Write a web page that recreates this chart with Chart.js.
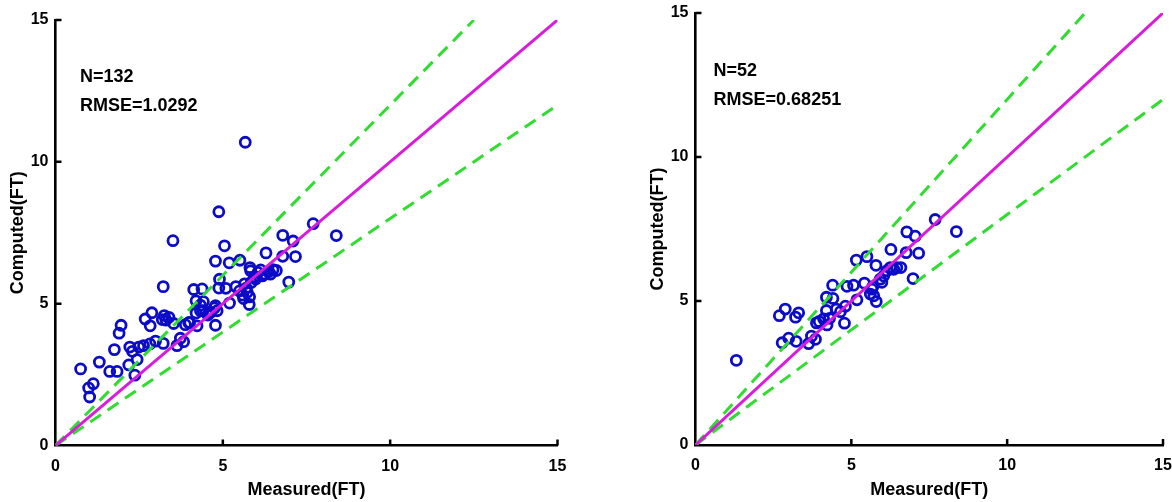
<!DOCTYPE html>
<html>
<head>
<meta charset="utf-8">
<script src="https://cdn.jsdelivr.net/npm/chart.js@4.4.1/dist/chart.umd.min.js"></script>
<style>
  html,body{margin:0;padding:0;background:#fff;}
  body{width:1172px;height:502px;position:relative;overflow:hidden;}
  .box{position:absolute;top:0;height:502px;}
  #boxA{left:0;width:580px;}
  #boxB{left:640px;width:532px;}
</style>
</head>
<body>
<div class="box" id="boxA"><canvas id="chartA" width="580" height="502"></canvas></div>
<div class="box" id="boxB"><canvas id="chartB" width="532" height="502"></canvas></div>
<script>
// ---- data ----
const tickValues = [0, 5, 10, 15];
const refSlopes = [1, 1.2, 0.8];      // y = x, +20 %, -20 %
const axisMax = 15;

const measuredA = [5.67,4.88,3.51,7.70,8.39,6.79,7.10,5.05,6.29,6.79,
  7.17,4.78,5.19,5.51,5.81,5.83,6.13,6.37,6.60,6.18,
  5.98,6.42,6.97,3.22,4.13,4.38,4.88,5.09,4.90,5.39,
  5.70,5.73,5.80,5.62,5.79,5.20,4.20,4.42,4.41,4.20,
  4.75,4.83,4.61,4.78,4.23,3.88,3.98,3.73,3.83,3.63,
  3.53,3.39,3.25,3.30,2.88,2.68,2.83,3.22,2.99,2.82,
  2.63,2.49,2.22,2.30,2.44,2.19,2.37,1.96,1.90,1.76,
  1.31,1.62,1.84,0.75,1.13,0.99,1.02,3.19,4.33,4.33,
  4.63,4.78,4.01,6.05,6.25,5.95,5.50,5.65,6.50,4.55,
  5.60,5.85];
const computedA = [10.69,8.24,7.22,7.82,7.40,7.41,7.21,7.04,6.79,6.67,
  6.66,6.50,6.44,6.53,6.27,6.16,6.19,6.13,6.17,5.98,
  5.87,6.04,5.76,5.60,5.50,5.52,5.55,5.54,5.86,5.60,
  5.55,5.40,5.24,5.18,4.97,5.02,5.10,5.07,4.75,4.67,
  4.85,4.75,4.67,4.24,4.22,4.26,4.33,3.78,3.66,3.52,
  4.30,4.52,4.58,4.42,4.68,4.46,4.22,3.60,3.68,3.58,
  3.52,3.47,3.47,3.32,3.03,2.84,2.48,4.24,3.96,3.38,
  2.94,2.61,2.61,2.70,2.18,2.03,1.71,4.44,4.75,4.95,
  4.70,4.93,4.34,6.10,6.05,5.95,5.45,5.70,6.20,4.60,
  5.30,5.75];
const statsA = ["N=132", "RMSE=1.0292"];

const measuredB = [1.31,2.69,2.88,2.78,2.99,3.23,3.21,3.31,3.63,3.72,
  3.85,3.88,3.97,4.22,4.20,4.20,4.41,4.40,4.11,4.52,
  4.65,4.81,4.78,4.86,5.07,5.18,5.16,5.50,5.42,5.61,
  5.66,5.72,5.80,5.79,5.93,6.04,6.14,6.25,6.36,6.27,
  6.46,6.59,6.76,6.78,7.05,7.16,6.98,7.69,8.37,5.69,
  5.98,4.30];
const computedB = [2.94,4.49,4.72,3.55,3.71,3.60,4.44,4.59,3.52,3.78,
  3.67,4.24,4.29,4.17,4.67,5.13,5.09,5.55,4.38,4.72,
  4.63,4.82,4.23,5.51,5.55,5.04,6.42,6.54,5.62,5.24,
  5.41,5.18,4.98,6.24,5.76,5.87,6.05,6.16,6.10,6.79,
  6.16,6.16,6.68,7.40,7.25,6.66,5.78,7.83,7.41,5.50,
  5.65,4.40];
const statsB = ["N=52", "RMSE=0.68251"];

const xTitle = "Measured(FT)";
const yTitle = "Computed(FT)";

// ---- helpers ----
const FONT = "'Liberation Sans', Arial, Helvetica, sans-serif";
function zip(xs, ys){ const n=Math.min(xs.length, ys.length); const o=[]; for(let i=0;i<n;i++) o.push({x:xs[i], y:ys[i]}); return o; }
function refLine(slope){ const xEnd = Math.min(axisMax, axisMax/slope); return [{x:0,y:0},{x:xEnd,y:xEnd*slope}]; }

const inwardTicks = {
  id:'inwardTicks',
  afterDatasetsDraw(chart){
    const {ctx, chartArea:a, scales:{x, y}} = chart;
    ctx.save();
    ctx.strokeStyle = '#000';
    ctx.lineWidth = 2.5;
    ctx.beginPath();
    tickValues.forEach(v => {
      if (v === 0) return;
      const px = x.getPixelForValue(v);
      ctx.moveTo(px, a.bottom); ctx.lineTo(px, a.bottom - 6);
      const py = y.getPixelForValue(v);
      ctx.moveTo(a.left, py); ctx.lineTo(a.left + 6, py);
    });
    ctx.stroke();
    ctx.restore();
  }
};

const statText = {
  id:'statText',
  afterDraw(chart, args, opts){
    const {ctx, scales:{x, y}} = chart;
    ctx.save();
    ctx.fillStyle = '#000';
    ctx.font = 'bold 18px ' + FONT;
    ctx.textBaseline = 'middle';
    ctx.textAlign = 'left';
    opts.lines.forEach((t, i) => {
      ctx.fillText(t, x.getPixelForValue(opts.x), y.getPixelForValue(13 - i*1.02));
    });
    ctx.restore();
  }
};

function makeChart(id, measured, computed, stats, pad, textX){
  const tickFont = {family:FONT, size:16, weight:'bold'};
  const titleFont = {family:FONT, size:18, weight:'bold'};
  const hiddenGrid = (len) => ({display:true, drawOnChartArea:false, drawTicks:true, tickLength:len, color:'rgba(0,0,0,0)', tickColor:'rgba(0,0,0,0)'});
  const tickCb = (v)=> tickValues.includes(v) ? String(v) : null;
  return new Chart(document.getElementById(id), {
    type:'scatter',
    data:{ datasets:[
      { type:'line', data:refLine(refSlopes[0]), borderColor:'#d91cd9', borderWidth:3, pointRadius:0, fill:false },
      { type:'line', data:refLine(refSlopes[1]), borderColor:'#30dc30', borderWidth:3, borderDash:[13,8], pointRadius:0, fill:false },
      { type:'line', data:refLine(refSlopes[2]), borderColor:'#30dc30', borderWidth:3, borderDash:[13,8], pointRadius:0, fill:false },
      { data:zip(measured, computed), pointStyle:'circle', pointRadius:5, pointBorderWidth:2.8,
        borderColor:'#0c0cc8', backgroundColor:'rgba(0,0,0,0)', pointBackgroundColor:'rgba(0,0,0,0)' }
    ]},
    options:{
      responsive:false, animation:false, devicePixelRatio:1,
      layout:{padding:{top:pad.top, right:pad.right, left:0, bottom:0}},
      plugins:{legend:{display:false}, tooltip:{enabled:false}, statText:{lines:stats, x:textX}},
      scales:{
        x:{
          type:'linear', min:0, max:axisMax, position:'bottom',
          grid:hiddenGrid(11),
          border:{display:true, color:'#000', width:2.6},
          ticks:{color:'#000', font:tickFont, callback:tickCb, stepSize:5, autoSkip:false, maxRotation:0, padding:0},
          title:{display:true, text:xTitle, color:'#000', font:titleFont, padding:{top:0,bottom:1}},
          afterFit:(s)=>{ s.height = pad.xh; }
        },
        y:{
          type:'linear', min:0, max:axisMax, position:'left',
          grid:hiddenGrid(7),
          border:{display:true, color:'#000', width:2.6},
          ticks:{color:'#000', font:tickFont, callback:tickCb, stepSize:5, autoSkip:false, padding:0},
          title:{display:true, text:yTitle, color:'#000', font:titleFont, padding:{top:7,bottom:0}},
          afterFit:(s)=>{ s.width = 55.5; }
        }
      }
    },
    plugins:[inwardTicks, statText]
  });
}

makeChart('chartA', measuredA, computedA, statsA, {top:20, right:22.5, xh:56.5}, 0.73);
makeChart('chartB', measuredB, computedB, statsB, {top:13, right:9, xh:57}, 0.58);
</script>
</body>
</html>
